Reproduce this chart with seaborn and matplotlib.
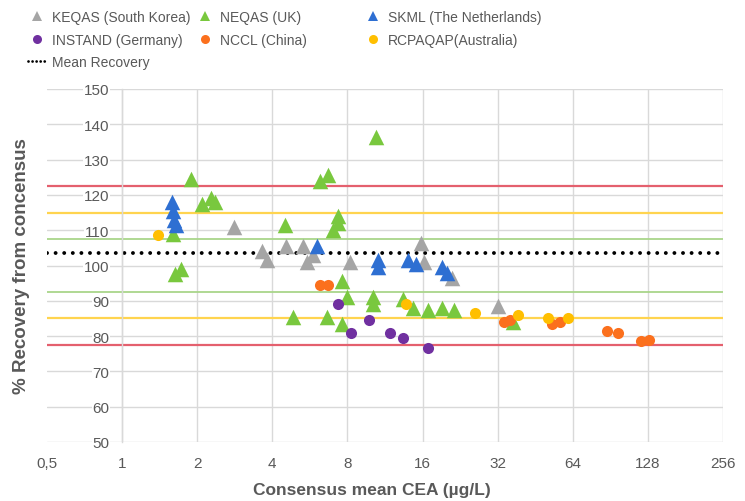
import pandas as pd
import seaborn as sns
import matplotlib.pyplot as plt
from matplotlib.lines import Line2D

# ---- data: consensus mean CEA (µg/L) and % recovery per EQA scheme ----
keqas_x = [2.8, 3.65, 3.8, 4.55, 5.3, 5.5, 5.8, 8.2, 15.7, 16.2, 21.0, 32.0]
keqas_y = [111, 104, 101.5, 105.5, 105.5, 101, 103, 101, 106.5, 101, 96.5, 88.5]

neqas_x = [1.6, 1.63, 1.72, 1.89, 2.09, 2.28, 2.35, 4.5, 4.85, 6.2, 6.7, 6.65,
           7.3, 7.3, 7.0, 7.6, 7.6, 8.0, 10.4, 10.1, 10.1, 13.4, 14.7, 16.8,
           19.2, 21.3, 37.0]
neqas_y = [109, 97.5, 99, 124.5, 117.5, 119, 118, 111.5, 85.5, 124, 125.5, 85.5,
           114, 112, 110, 95.5, 83.5, 91, 136.5, 91, 89, 90.5, 88, 87.5,
           88, 87.5, 84]

skml_x = [1.58, 1.6, 1.62, 1.65, 6.06, 10.6, 10.6, 14.0, 15.0, 19.2, 20.0]
skml_y = [118, 115.5, 113, 111.5, 105.5, 101.5, 99.5, 101.5, 100.5, 99.5, 98]

instand_x = [7.3, 8.3, 9.8, 11.9, 13.3, 16.8]
instand_y = [89, 81, 84.5, 81, 79.5, 76.5]

nccl_x = [6.2, 6.7, 34, 36, 53, 57, 88, 97, 120, 129]
nccl_y = [94.5, 94.5, 84, 84.5, 83.5, 84, 81.5, 81, 78.5, 79]

rcpa_x = [1.39, 13.7, 26, 38.5, 51, 61]
rcpa_y = [108.5, 89, 86.5, 86, 85, 85]

mean_recovery = 103.6
# acceptance limits around 100 %
limit_green = 7.5
limit_yellow = 15.0
limit_red = 22.5

x_ticks = [0.5, 1, 2, 4, 8, 16, 32, 64, 128, 256]
x_tick_labels = ["0,5", "1", "2", "4", "8", "16", "32", "64", "128", "256"]
y_ticks = [50, 60, 70, 80, 90, 100, 110, 120, 130, 140, 150]

# ---- styling ----
sns.set_theme(style="white")
plt.rcParams["font.family"] = ["Liberation Sans", "DejaVu Sans"]

TXT = "#595959"
GRID = "#d9d9d9"
C_GREY = "#a5a5a5"
C_GREEN = "#79c83e"
C_BLUE = "#2e6fd2"
C_PURPLE = "#7030a0"
C_ORANGE = "#fb701d"
C_YELLOW = "#ffbf00"

series = [
    ("NEQAS (UK)", neqas_x, neqas_y, "^", C_GREEN),
    ("KEQAS (South Korea)", keqas_x, keqas_y, "^", C_GREY),
    ("SKML (The Netherlands)", skml_x, skml_y, "^", C_BLUE),
    ("INSTAND (Germany)", instand_x, instand_y, "o", C_PURPLE),
    ("NCCL (China)", nccl_x, nccl_y, "o", C_ORANGE),
    ("RCPAQAP(Australia)", rcpa_x, rcpa_y, "o", C_YELLOW),
]

fig = plt.figure(figsize=(7.45, 5.02), dpi=100)
ax = fig.add_axes([47 / 745, 59 / 502, 676 / 745, 353 / 502])
ax.set_xscale("log", base=2)

for name, xs, ys, mk, col in series:
    df = pd.DataFrame({"cea": xs, "recovery": ys})
    sns.scatterplot(data=df, x="cea", y="recovery", marker=mk, color=col,
                    s=125 if mk == "^" else 64, linewidth=0, ax=ax,
                    zorder=3, legend=False)

# acceptance limits and mean recovery
for d, col, lw in [(limit_green, "#a9d68a", 1.3),
                   (limit_yellow, "#ffd44f", 1.6),
                   (limit_red, "#e4606e", 1.6)]:
    ax.axhline(100 + d, color=col, lw=lw, zorder=2)
    ax.axhline(100 - d, color=col, lw=lw, zorder=2)
ax.axhline(mean_recovery, color="black", lw=2.8, linestyle=(0, (0.01, 2.2)),
           dash_capstyle="round", zorder=2.5)

ax.set_xlim(0.5, 256)
ax.set_ylim(50, 150)
ax.set_xticks(x_ticks)
ax.set_xticklabels(x_tick_labels)
ax.xaxis.set_minor_locator(plt.NullLocator())
ax.set_yticks(y_ticks)
ax.set_yticklabels([str(v) for v in y_ticks])

ax.grid(True, color=GRID, lw=1)
ax.set_axisbelow(True)
ax.xaxis.get_gridlines()[0].set_visible(False)

for side in ["top", "right", "bottom"]:
    ax.spines[side].set_visible(False)
ax.spines["left"].set_position(("data", 1))
ax.spines["left"].set_color(GRID)
ax.spines["left"].set_linewidth(1)

ax.tick_params(axis="both", length=0, labelsize=11, labelcolor=TXT)
ax.tick_params(axis="y", pad=9)
ax.tick_params(axis="x", pad=10)
for lab in ax.get_yticklabels():
    lab.set_bbox(dict(boxstyle="square,pad=0.05", fc="white", ec="none"))

ax.set_xlabel("Consensus mean CEA (µg/L)", fontsize=12.5, fontweight="bold", color=TXT)
ax.xaxis.set_label_coords(0.48, -0.112)
ax.set_ylabel("% Recovery from concensus", fontsize=13.5, fontweight="bold", color=TXT)
ax.yaxis.set_label_coords(-0.037, 0.5)
ax.yaxis.label.set_verticalalignment("center")

# legend in three columns
def tri(c):
    return Line2D([], [], marker="^", color=c, lw=0, markersize=6.5, markeredgewidth=0)

def dot(c):
    return Line2D([], [], marker="o", color=c, lw=0, markersize=6.5, markeredgewidth=0)

mean_handle = Line2D([], [], color="black", lw=2.0, linestyle=(0, (0.01, 1.45)),
                     dash_capstyle="round")

columns = [
    (28, [tri(C_GREY), dot(C_PURPLE), mean_handle],
     ["KEQAS (South Korea)", "INSTAND (Germany)", "Mean Recovery"]),
    (196, [tri(C_GREEN), dot(C_ORANGE)], ["NEQAS (UK)", "NCCL (China)"]),
    (364, [tri(C_BLUE), dot(C_YELLOW)], ["SKML (The Netherlands)", "RCPAQAP(Australia)"]),
]
for xpx, hs, ls in columns:
    fig.legend(hs, ls, loc="upper left", bbox_to_anchor=(xpx / 745, 0.978),
               frameon=False, fontsize=10, handlelength=1.3, handletextpad=0.4,
               borderpad=0, borderaxespad=0, labelspacing=0.62,
               labelcolor=TXT)

fig.savefig("out.png", dpi=100)
